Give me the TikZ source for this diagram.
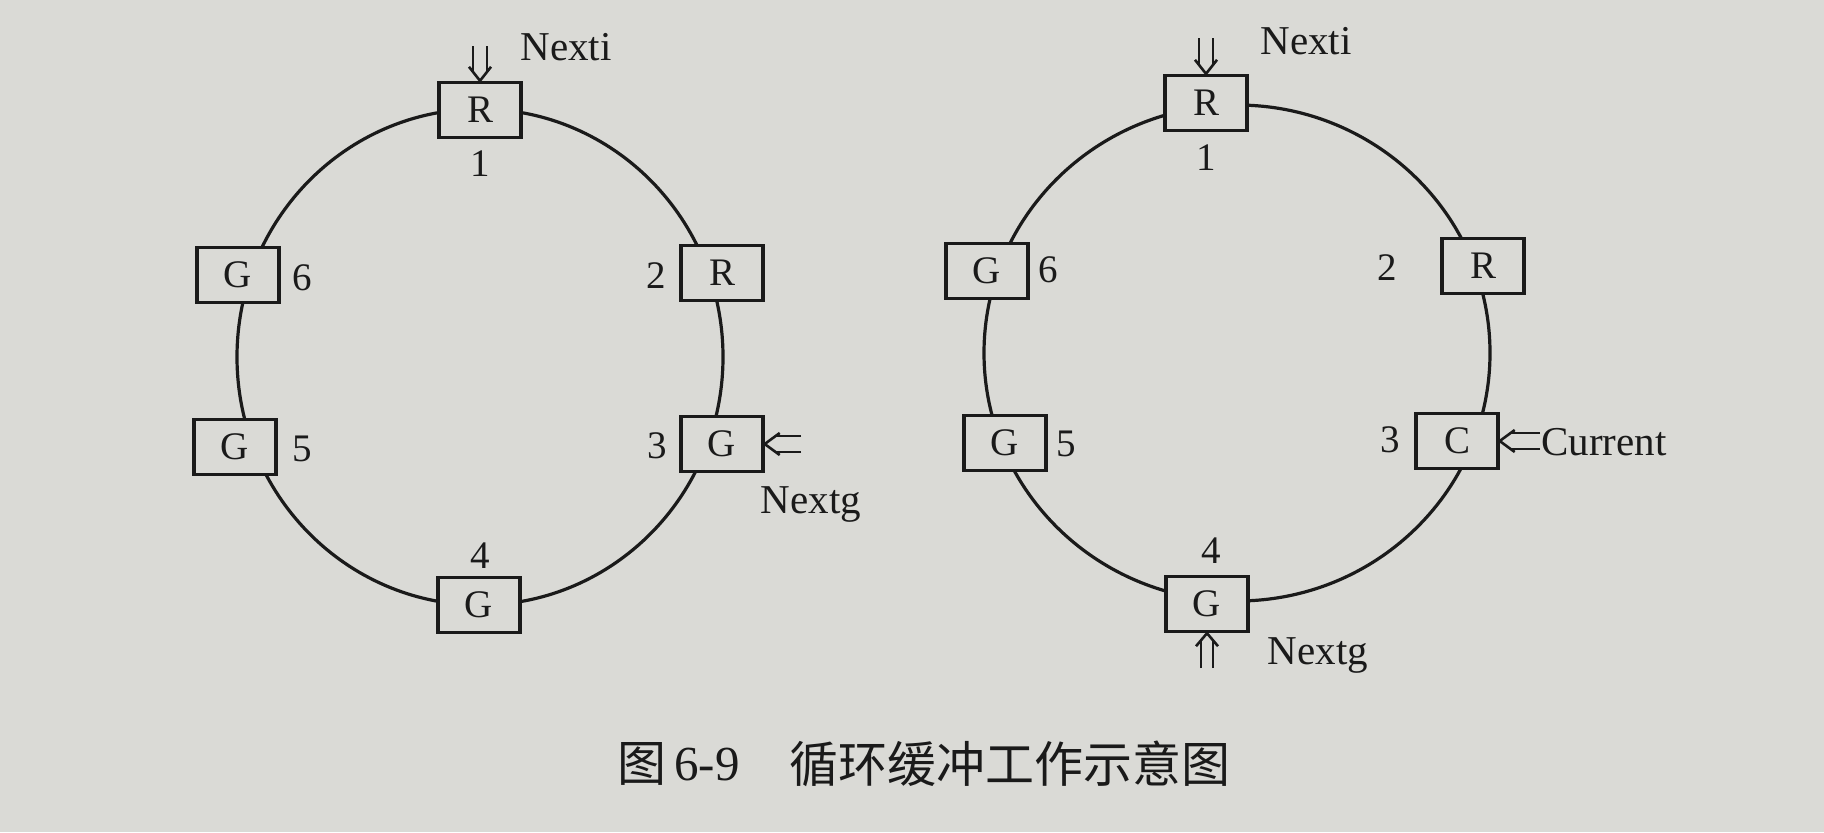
\documentclass[tikz,border=0pt]{standalone}
\usepackage{fontspec}
\setmainfont{Liberation Serif}
\newfontfamily\cjk{Noto Sans CJK SC}
\definecolor{paper}{RGB}{218,218,214}
\definecolor{ink}{RGB}{26,26,26}
\begin{document}
\begin{tikzpicture}[x=0.5pt,y=-0.5pt,
  cell/.style={draw=ink, line width=1.7pt, fill=paper, minimum width=41pt, minimum height=27.5pt, inner sep=0pt, font=\fontsize{19.5}{19.5}\selectfont, text=ink},
  num/.style={inner sep=0pt, font=\fontsize{19.5}{19.5}\selectfont, text=ink},
  lbl/.style={inner sep=0pt, font=\fontsize{20.5}{20.5}\selectfont, text=ink},
  ring/.style={draw=ink, line width=1.6pt},
  shaft/.style={draw=ink, line width=1.2pt},
  head/.style={draw=ink, line width=1.3pt, line join=miter},
  captext/.style={inner sep=0pt, font=\fontsize{24.5}{24.5}\selectfont, text=ink}
]
\fill[paper] (0,0) rectangle (1824,832);
\useasboundingbox (0,0) rectangle (1824,832);

% ---------- left diagram ----------
\draw[ring] (480,357) ellipse [x radius=243, y radius=248];
\node[cell] (lb1) at (480,110) {R};
\node[cell] (lb2) at (722,273) {R};
\node[cell] (lb3) at (722,444) {G};
\node[cell] (lb4) at (479,605) {G};
\node[cell] (lb5) at (235,447) {G};
\node[cell] (lb6) at (238,275) {G};
\node[num] (ln1) at (480,164) {1};
\node[num] (ln2) at (656,276) {2};
\node[num] (ln3) at (657,446) {3};
\node[num] (ln4) at (480,556) {4};
\node[num] (ln5) at (302,449) {5};
\node[num] (ln6) at (302,278) {6};
% Nexti pointer (down)
\coordinate (lpi) at (480,46);
\draw[shaft] ([xshift=-3.5pt]lpi) -- ([xshift=-3.5pt,yshift=4.5pt]lb1.north)
             ([xshift=3.5pt]lpi) -- ([xshift=3.5pt,yshift=4.5pt]lb1.north);
\draw[head] ([xshift=-5.5pt,yshift=7pt]lb1.north) -- (lb1.north) -- ([xshift=5.5pt,yshift=7pt]lb1.north);
\node[lbl] (lnexti) at (566,47) {Nexti};
% Nextg pointer (left)
\coordinate (lpg) at (801,444);
\draw[shaft] ([yshift=4pt]lpg) -- ([xshift=5.5pt,yshift=4pt]lb3.east)
             ([yshift=-4pt]lpg) -- ([xshift=5.5pt,yshift=-4pt]lb3.east);
\draw[head] ([xshift=7.5pt,yshift=5.5pt]lb3.east) -- (lb3.east) -- ([xshift=7.5pt,yshift=-5.5pt]lb3.east);
\node[lbl] (lnextg) at (811,504) {Nextg};

% ---------- right diagram ----------
\draw[ring] (1237,353) ellipse [x radius=253, y radius=248];
\node[cell] (rb1) at (1206,103) {R};
\node[cell] (rb2) at (1483,266) {R};
\node[cell] (rb3) at (1457,441) {C};
\node[cell] (rb4) at (1207,604) {G};
\node[cell] (rb5) at (1005,443) {G};
\node[cell] (rb6) at (987,271) {G};
\node[num] (rn1) at (1206,158) {1};
\node[num] (rn2) at (1387,268) {2};
\node[num] (rn3) at (1390,440) {3};
\node[num] (rn4) at (1211,551) {4};
\node[num] (rn5) at (1066,444) {5};
\node[num] (rn6) at (1048,270) {6};
% Nexti pointer (down)
\coordinate (rpi) at (1206,38);
\draw[shaft] ([xshift=-3.5pt]rpi) -- ([xshift=-3.5pt,yshift=4.5pt]rb1.north)
             ([xshift=3.5pt]rpi) -- ([xshift=3.5pt,yshift=4.5pt]rb1.north);
\draw[head] ([xshift=-5.5pt,yshift=7pt]rb1.north) -- (rb1.north) -- ([xshift=5.5pt,yshift=7pt]rb1.north);
\node[lbl] (rnexti) at (1306,41) {Nexti};
% Current pointer (left)
\coordinate (rpc) at (1540,441);
\draw[shaft] ([yshift=4pt]rpc) -- ([xshift=5.5pt,yshift=4pt]rb3.east)
             ([yshift=-4pt]rpc) -- ([xshift=5.5pt,yshift=-4pt]rb3.east);
\draw[head] ([xshift=7.5pt,yshift=5.5pt]rb3.east) -- (rb3.east) -- ([xshift=7.5pt,yshift=-5.5pt]rb3.east);
\node[lbl, anchor=west] (rcur) at (1541,442) {Current};
% Nextg pointer (up)
\coordinate (rpg) at (1207,668);
\draw[shaft] ([xshift=-3pt]rpg) -- ([xshift=-3pt,yshift=-4pt]rb4.south)
             ([xshift=3pt]rpg) -- ([xshift=3pt,yshift=-4pt]rb4.south);
\draw[head] ([xshift=-5.5pt,yshift=-6.5pt]rb4.south) -- (rb4.south) -- ([xshift=5.5pt,yshift=-6.5pt]rb4.south);
\node[lbl] (rnextg) at (1318,655) {Nextg};

% ---------- caption ----------
\node[captext] (ct1) at (642,764) {\cjk 图};
\node[captext] (ct2) at (707,764) {6-9};
\node[captext, anchor=west] (ct3) at (789,764) {\cjk 循环缓冲工作示意图};
\end{tikzpicture}
\end{document}
